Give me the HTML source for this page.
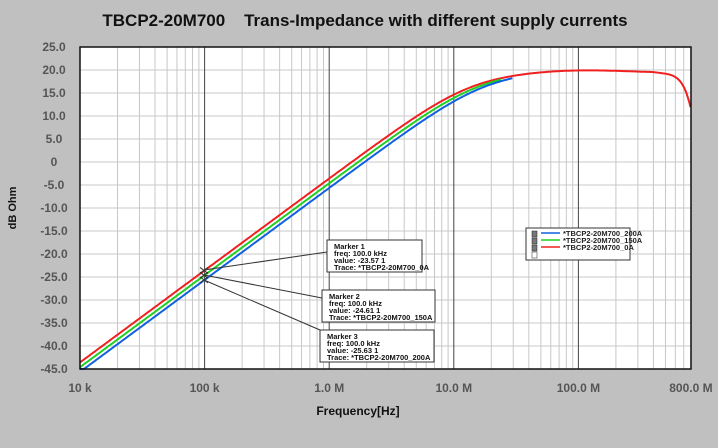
<!DOCTYPE html>
<html><head><meta charset="utf-8"><style>
body{margin:0;width:718px;height:443px;background:#c0c0c0;overflow:hidden;font-family:"Liberation Sans",sans-serif}
</style></head><body>
<svg id="s" width="718" height="443" xmlns="http://www.w3.org/2000/svg" font-family="Liberation Sans, sans-serif">
<text x="365" y="26" text-anchor="middle" font-size="17" font-weight="bold" fill="#111" xml:space="preserve">TBCP2-20M700    Trans-Impedance with different supply currents</text>
<rect x="80" y="47" width="611" height="322" fill="#fff"/>
<g id="grid"></g>
<g id="curves" fill="none" stroke-width="2"></g>
<rect x="80" y="47" width="611" height="322" fill="none" stroke="#111" stroke-width="1.5"/>
<g id="labels" font-size="12" font-weight="bold" fill="#555"></g>
<text x="358" y="415" text-anchor="middle" font-size="12" font-weight="bold" fill="#111">Frequency[Hz]</text>
<text transform="translate(16,208) rotate(-90)" text-anchor="middle" font-size="11" font-weight="bold" fill="#111">dB Ohm</text>
<g stroke="#333" stroke-width="1">
<line x1="204" y1="270" x2="327" y2="252"/>
<line x1="204" y1="275" x2="322" y2="298"/>
<line x1="204" y1="280" x2="320" y2="330"/>
</g>
<g font-size="7.5" font-weight="bold" fill="#111">
<rect x="327" y="240" width="95" height="32" fill="#fff" stroke="#333"/>
<text x="334" y="249">Marker 1</text><text x="334" y="256">freq: 100.0 kHz</text><text x="334" y="263">value: -23.57  1</text><text x="334" y="270">Trace: *TBCP2-20M700_0A</text>
<rect x="322" y="290" width="113" height="32" fill="#fff" stroke="#333"/>
<text x="329" y="299">Marker 2</text><text x="329" y="306">freq: 100.0 kHz</text><text x="329" y="313">value: -24.61  1</text><text x="329" y="320">Trace: *TBCP2-20M700_150A</text>
<rect x="320" y="330" width="114" height="32" fill="#fff" stroke="#333"/>
<text x="327" y="339">Marker 3</text><text x="327" y="346">freq: 100.0 kHz</text><text x="327" y="353">value: -25.63  1</text><text x="327" y="360">Trace: *TBCP2-20M700_200A</text>
</g>
<g font-size="7.5" font-weight="bold" fill="#222">
<rect x="526" y="228" width="104" height="32" fill="#fff" stroke="#333"/>
<rect x="532" y="231" width="5" height="6" fill="#777" stroke="#222" stroke-width=".5"/>
<rect x="532" y="238" width="5" height="6" fill="#777" stroke="#222" stroke-width=".5"/>
<rect x="532" y="245" width="5" height="6" fill="#777" stroke="#222" stroke-width=".5"/>
<rect x="532" y="252" width="5" height="6" fill="#fff" stroke="#222" stroke-width=".5"/>
<line x1="541" y1="233" x2="560" y2="233" stroke="#1060e0" stroke-width="1.5"/>
<line x1="541" y1="240" x2="560" y2="240" stroke="#20d020" stroke-width="1.5"/>
<line x1="541" y1="247" x2="560" y2="247" stroke="#f02020" stroke-width="1.5"/>
<text x="563" y="236">*TBCP2-20M700_200A</text><text x="563" y="243">*TBCP2-20M700_150A</text><text x="563" y="250">*TBCP2-20M700_0A</text>
</g>
</svg>
<script>
var NS="http://www.w3.org/2000/svg",L=80,T=47,B=369,D=124.6;
function X(f){return L+D*(Math.log10(f)-4);}
function Y(d){return T+(25-d)*4.6;}
function el(p,t,a){var e=document.createElementNS(NS,t);for(var k in a)e.setAttribute(k,a[k]);p.appendChild(e);return e;}
var g=document.getElementById('grid');
for(var d=25;d>=-45;d-=5)el(g,'line',{x1:L,x2:691,y1:Y(d),y2:Y(d),stroke:'#c8c8c8','stroke-width':1});
for(var e=4;e<=8;e++)for(var m=1;m<10;m++){var f=m*Math.pow(10,e);if(f>8e8)break;
el(g,'line',{x1:X(f),x2:X(f),y1:T,y2:B,stroke:m==1?'#444':'#c8c8c8','stroke-width':1});}
var lb=document.getElementById('labels');
for(var d=25;d>=-45;d-=5){var t=el(lb,'text',{x:54,y:Y(d)+4,'text-anchor':'middle'});t.textContent=d==0?'0':d.toFixed(1);}
var xl=[[1e4,'10  k'],[1e5,'100 k'],[1e6,'1.0 M'],[1e7,'10.0 M'],[1e8,'100.0 M'],[8e8,'800.0 M']];
xl.forEach(function(a){var t=el(lb,'text',{x:X(a[0]),y:392,'text-anchor':'middle'});t.textContent=a[1];});
function plat(f){var lf=Math.log10(f);
 var p=19.3+0.7*Math.exp(-Math.pow((lf-8)/0.6,2));
 if(lf>8.6){var u=(lf-8.6)/(Math.log10(8e8)-8.6);p-=0.8*u+7*Math.pow(u,5);}
 return p;}
var cg=document.getElementById('curves');
[[-23.57,'#f02020',8e8],[-24.61,'#20d020',2.4e7],[-25.63,'#1060e0',3e7]].forEach(function(c){
 var pts=[];for(var lf=4;lf<=Math.log10(c[2])+1e-9;lf+=0.01){var f=Math.pow(10,lf);
 var a=c[0]+20*(lf-5),p=plat(f);var v=-10*Math.log10(Math.pow(10,-a/10)+Math.pow(10,-p/10));
 if(c[2]<1e8 && lf>7.2) v=Math.min(v,p-0.3);
 var y=Math.min(Y(v),B);pts.push(X(f).toFixed(1)+','+y.toFixed(1));}
 el(cg,'polyline',{points:pts.join(' '),stroke:c[1]});
});
[[-23.57],[-24.61],[-25.63]].forEach(function(c){var y=Y(c[0]);
 el(cg,'path',{d:'M200 '+(y-3)+'l8 6M200 '+(y+3)+'l8 -6',stroke:'#333','stroke-width':1});});
</script>
</body></html>
